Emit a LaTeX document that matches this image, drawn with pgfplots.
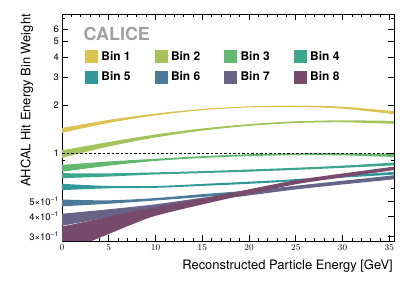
\documentclass[border=0pt]{standalone}
\usepackage{fontspec}
\setmainfont{TeX Gyre Heros}
\usepackage{pgfplots}
\pgfplotsset{compat=1.18}
\usepackage{pgfplotstable}
\usepgfplotslibrary{fillbetween}
\usetikzlibrary{calc}

\definecolor{b1}{HTML}{DCC34F}
\definecolor{b2}{HTML}{A4C45B}
\definecolor{b3}{HTML}{63B86F}
\definecolor{b4}{HTML}{3CA68C}
\definecolor{b5}{HTML}{309898}
\definecolor{b6}{HTML}{4C7B9A}
\definecolor{b7}{HTML}{696387}
\definecolor{b8}{HTML}{784A6C}
\definecolor{calgray}{HTML}{A0A0A0}

\pgfplotstableread{
x lo hi
0 1.338 1.434
5 1.545 1.613
10 1.721 1.767
15 1.854 1.888
20 1.930 1.962
25 1.943 1.983
30 1.897 1.951
35.5 1.751 1.829
}\binA
\pgfplotstableread{
x lo hi
0 0.931 1.039
5 1.098 1.170
10 1.250 1.306
15 1.380 1.424
20 1.479 1.517
25 1.541 1.579
30 1.558 1.602
35.5 1.523 1.589
}\binB
\pgfplotstableread{
x lo hi
0 0.761 0.841
5 0.832 0.884
10 0.891 0.919
15 0.930 0.954
20 0.955 0.981
25 0.968 0.994
30 0.965 0.995
35.5 0.943 0.981
}\binC
\pgfplotstableread{
x lo hi
0 0.694 0.746
5 0.711 0.745
10 0.733 0.755
15 0.747 0.769
20 0.763 0.787
25 0.783 0.807
30 0.806 0.832
35.5 0.836 0.870
}\binD
\pgfplotstableread{
x lo hi
0 0.584 0.640
5 0.600 0.620
10 0.604 0.620
15 0.621 0.639
20 0.640 0.660
25 0.665 0.685
30 0.699 0.721
35.5 0.731 0.761
}\binE
\pgfplotstableread{
x lo hi
0 0.462 0.510
5 0.480 0.504
10 0.503 0.521
15 0.529 0.551
20 0.559 0.581
25 0.598 0.622
30 0.642 0.668
35.5 0.692 0.724
}\binF
\pgfplotstableread{
x lo hi
0 0.349 0.415
5 0.395 0.443
10 0.448 0.476
15 0.497 0.523
20 0.541 0.569
25 0.590 0.620
30 0.634 0.666
35.5 0.683 0.718
}\binG
\pgfplotstableread{
x lo hi
0 0.236 0.345
2.5 0.270 0.370
5 0.310 0.397
7.5 0.356 0.427
10 0.403 0.456
15 0.475 0.517
20 0.553 0.591
25 0.636 0.674
30 0.703 0.743
35.5 0.780 0.820
}\binH

\newcommand\band[3]{%
  \addplot[name path=u#1, draw=none, smooth, forget plot] table[x=x,y=hi]{#2};
  \addplot[name path=l#1, draw=none, smooth, forget plot] table[x=x,y=lo]{#2};
  \addplot[fill=#3, draw=none, forget plot] fill between[of=u#1 and l#1];
}

\begin{document}
\begin{tikzpicture}
\begin{axis}[
  scale only axis, width=332bp, height=227bp,
  xmin=0, xmax=35.5, ymode=log, ymin=0.28, ymax=7.45,
  axis line style={line width=0.9bp},
  tick align=inside,
  xtick={0,5,...,35}, minor x tick num=4,
  ytick={0.3,0.4,0.5,1,2,3,4,5,6},
  yticklabels={3\texttimes10\textsuperscript{\textminus1},4\texttimes10\textsuperscript{\textminus1},5\texttimes10\textsuperscript{\textminus1},1,2,3,4,5,6},
  minor ytick={0.6,0.7,0.8,0.9,7},
  major tick length=6bp, minor tick length=3bp,
  every tick/.style={line width=0.7bp, black},
  xticklabel style={inner sep=0pt, yshift=-4bp, font=\fontsize{9.5}{10}\selectfont},
  yticklabel style={inner sep=0pt, xshift=-3bp, font=\fontsize{9.5}{10}\selectfont},
  xlabel={Reconstructed Particle Energy [GeV]},
  ylabel={AHCAL Hit Energy Bin Weight},
  xlabel style={at={(axis description cs:1,0)}, anchor=base east, yshift=-28bp, xshift=-1bp, inner sep=0pt, font=\fontsize{13}{13}\selectfont},
  ylabel style={at={(axis description cs:-0.1054,1)}, anchor=east, inner sep=0pt, font=\fontsize{13}{13}\selectfont},
  legend columns=4,
  legend image code/.code={\fill[#1] (0bp,-6.5bp) rectangle (13bp,6.5bp);},
  legend cell align=left,
  legend style={at={(axis description cs:0.0693,0.8414)}, anchor=north west, draw=none, fill=none,
    inner sep=0pt, outer sep=0pt, row sep=7.7bp, column sep=0pt,
    nodes={inner sep=0pt, font=\bfseries\fontsize{12}{12}\selectfont}},
]
\addlegendimage{fill=b1, draw=none}\addlegendentry{\makebox[56.6bp][l]{\hspace{3.4bp}Bin 1}}
\addlegendimage{fill=b2, draw=none}\addlegendentry{\makebox[56.6bp][l]{\hspace{3.4bp}Bin 2}}
\addlegendimage{fill=b3, draw=none}\addlegendentry{\makebox[56.6bp][l]{\hspace{3.4bp}Bin 3}}
\addlegendimage{fill=b4, draw=none}\addlegendentry{\makebox[56.6bp][l]{\hspace{3.4bp}Bin 4}}
\addlegendimage{fill=b5, draw=none}\addlegendentry{\makebox[56.6bp][l]{\hspace{3.4bp}Bin 5}}
\addlegendimage{fill=b6, draw=none}\addlegendentry{\makebox[56.6bp][l]{\hspace{3.4bp}Bin 6}}
\addlegendimage{fill=b7, draw=none}\addlegendentry{\makebox[56.6bp][l]{\hspace{3.4bp}Bin 7}}
\addlegendimage{fill=b8, draw=none}\addlegendentry{\makebox[56.6bp][l]{\hspace{3.4bp}Bin 8}}

\addplot[black, line width=0.6bp, dash pattern=on 2.5bp off 2bp, forget plot] coordinates {(0,1) (35.5,1)};

\band{1}{\binA}{b1}
\band{2}{\binB}{b2}
\band{3}{\binC}{b3}
\band{4}{\binD}{b4}
\band{5}{\binE}{b5}
\band{6}{\binF}{b6}
\band{7}{\binG}{b7}
\band{8}{\binH}{b8}

\node[anchor=base west, inner sep=0pt, text=calgray, font=\bfseries\fontsize{18}{18}\selectfont] at (axis description cs:0.0648,0.8824) {CALICE};
\end{axis}
\pgfresetboundingbox
\path ($(current axis.south west)+(-62bp,-40bp)$) rectangle ($(current axis.north east)+(21bp,14bp)$);
\end{tikzpicture}
\end{document}
